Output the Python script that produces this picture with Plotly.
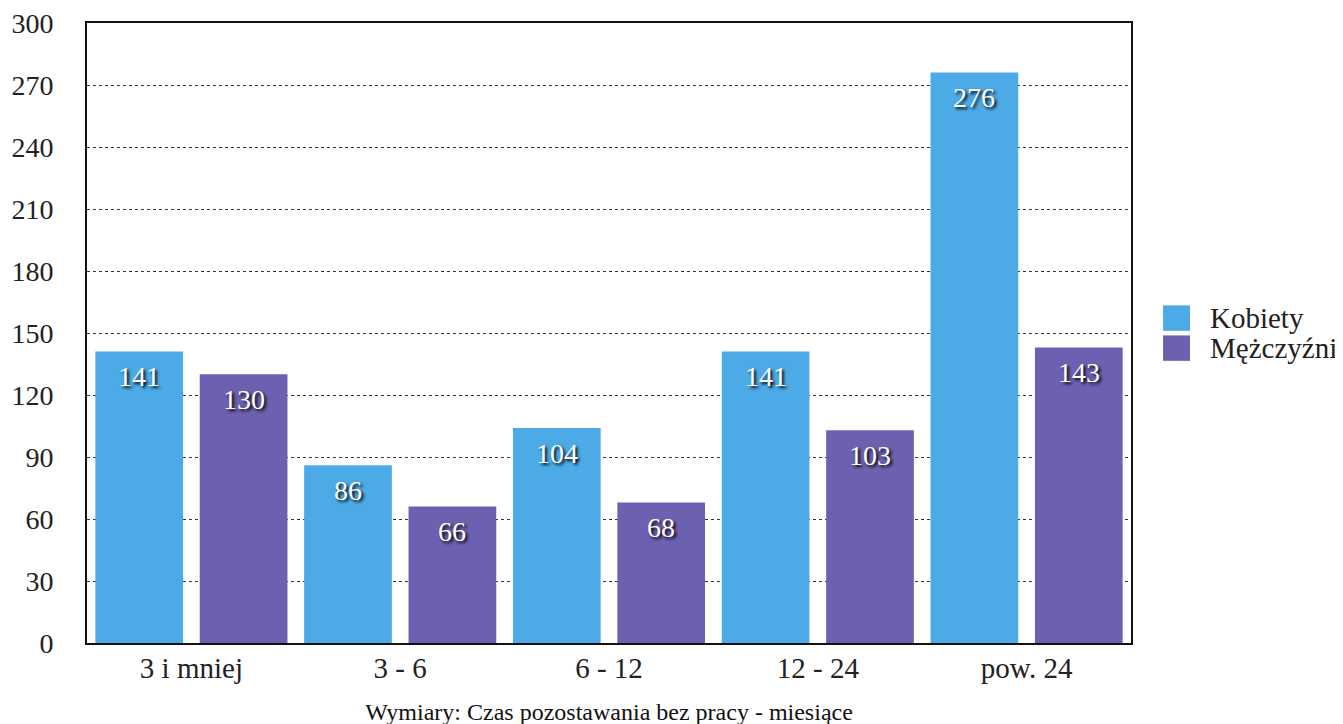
import plotly.graph_objects as go

categories = ["3 i mniej", "3 - 6", "6 - 12", "12 - 24", "pow. 24"]
kobiety = [141, 86, 104, 141, 276]
mezczyzni = [130, 66, 68, 103, 143]
series_names = ["Kobiety", "Mężczyźni"]
colors = ["#4CAAE6", "#6C60B0"]
y_ticks = [0, 30, 60, 90, 120, 150, 180, 210, 240, 270, 300]
x_title = "Wymiary: Czas pozostawania bez pracy - miesiące"

FONT = "Liberation Serif"
SLOT_PX = 52.2  # half of one category's pixel width: centre of each bar in a group

fig = go.Figure()
for k, (name, vals, col) in enumerate(zip(series_names, [kobiety, mezczyzni], colors)):
    fig.add_trace(go.Bar(
        x=categories, y=vals, name=name, marker=dict(color=col, line=dict(width=0)),
        showlegend=False, hoverinfo="x+y+name",
    ))
    for c, v in zip(categories, vals):
        fig.add_annotation(
            x=c, y=v, xref="x", yref="y", text=str(v), showarrow=False,
            xshift=(-1 if k == 0 else 1) * SLOT_PX, yshift=-25,
            xanchor="center", yanchor="middle",
            font=dict(family=FONT, size=28, color="white", shadow="2px 2px 3px #000"),
        )

# legend drawn as swatches + labels
for i, (name, col) in enumerate(zip(series_names, colors)):
    y0 = 0.5445 - i * 0.0484
    fig.add_shape(type="rect", xref="paper", yref="paper",
                  x0=1.0307, x1=1.0565, y0=y0 - 0.041, y1=y0,
                  fillcolor=col, line=dict(width=0))
    fig.add_annotation(xref="paper", yref="paper", x=1.074, y=y0 - 0.0205,
                       text=name, showarrow=False, xanchor="left", yanchor="middle",
                       font=dict(family=FONT, size=29, color="#222"))

fig.update_layout(
    width=1343, height=724,
    margin=dict(l=79, r=220, t=15, b=89, autoexpand=False),
    paper_bgcolor="white", plot_bgcolor="white",
    barmode="group", bargap=0.0, bargroupgap=0.16,
    font=dict(family=FONT, size=28, color="#222"),
    xaxis=dict(
        showgrid=False, showline=True, linecolor="#111", linewidth=2, mirror=True,
        ticks="", ticklabelstandoff=-2, tickfont=dict(family=FONT, size=29, color="#222"),
        title=dict(text=x_title, font=dict(family=FONT, size=24, color="#111"), standoff=20),
        automargin=False, ticklabeloverflow="allow",
    ),
    yaxis=dict(
        range=[0, 300], tickvals=y_ticks, showgrid=True, gridcolor="#333",
        griddash="dot", gridwidth=1, showline=True, linecolor="#111", linewidth=2,
        mirror=True, ticks="", ticklabelstandoff=26, zeroline=False,
        tickfont=dict(family=FONT, size=28, color="#222"), automargin=False,
        ticklabeloverflow="allow",
    ),
)

fig.write_html("out.html")
